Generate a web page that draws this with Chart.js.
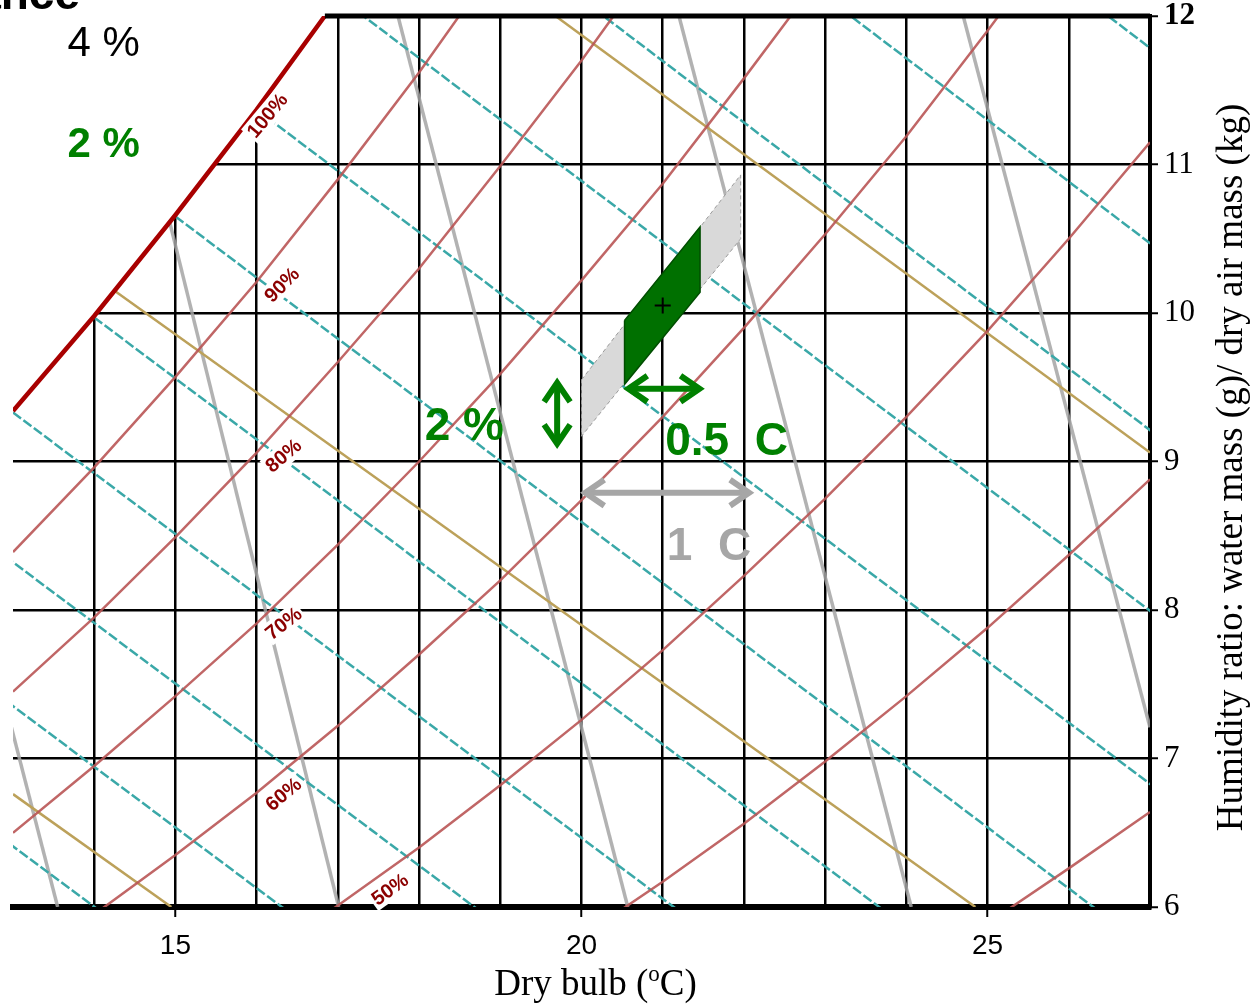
<!DOCTYPE html>
<html>
<head>
<meta charset="utf-8">
<title>Psychrometric chart - tolerance</title>
<script src="https://cdn.jsdelivr.net/npm/chart.js@4.4.1/dist/chart.umd.min.js"></script>
<style>
  html, body { margin: 0; padding: 0; background: #fff; }
</style>
</head>
<body>
<canvas id="psychro" width="1254" height="1005"></canvas>
<script>
// ---- data (dry bulb in C, humidity ratio in g/kg) ----

// saturation line (100 %)
const satT = [13, 14, 15, 16, 16.84];
const satW = [9.34, 9.98, 10.66, 11.37, 12.0];

// relative humidity curves
const rh90T = [13, 14, 15, 16, 17, 18, 19];
const rh90W = [8.39, 8.96, 9.57, 10.21, 10.90, 11.62, 12.39];
const rh80T = [13, 14, 15, 16, 17, 18, 19, 20, 21];
const rh80W = [7.45, 7.95, 8.49, 9.06, 9.67, 10.30, 10.99, 11.70, 12.46];
const rh70T = [13, 14, 15, 16, 17, 18, 19, 20, 21, 22, 23];
const rh70W = [6.50, 6.95, 7.42, 7.91, 8.44, 9.00, 9.59, 10.22, 10.87, 11.58, 12.31];
const rh60T = [13, 14, 15, 16, 17, 18, 19, 20, 21, 22, 23, 24, 25, 26];
const rh60W = [5.57, 5.95, 6.35, 6.77, 7.22, 7.70, 8.20, 8.74, 9.30, 9.90, 10.53, 11.19, 11.90, 12.64];
const rh50T = [16, 17, 18, 19, 20, 21, 22, 23, 24, 25, 26, 27];
const rh50W = [5.63, 6.01, 6.40, 6.82, 7.26, 7.73, 8.23, 8.75, 9.30, 9.88, 10.50, 11.15];
const rh40T = [19, 20, 21, 22, 23, 24, 25, 26, 27];
const rh40W = [5.44, 5.80, 6.17, 6.56, 6.98, 7.42, 7.88, 8.37, 8.88];
const rh30T = [23, 24, 25, 26, 27];
const rh30W = [5.22, 5.55, 5.89, 6.26, 6.64];

// RH labels
const rhLabelText = ['100%', '90%', '80%', '70%', '60%', '50%'];
const rhLabelT = [16.13, 16.31, 16.33, 16.33, 16.33, 17.64];
const rhLabelW = [11.33, 10.19, 9.04, 7.91, 6.76, 6.12];
const rhLabelAngle = [-50, -45, -40, -38, -40, -36];

// wet bulb lines (cyan dashed), one per degree 10..20
const wbStartT = [10, 11, 12, 13, 14, 15, 16, 17, 18, 19, 20];
const wbStartW = [7.63, 8.17, 8.73, 9.33, 9.97, 10.65, 11.37, 12.13, 12.94, 13.79, 14.70];
const wbEndT = [24, 25, 26, 27, 28, 29, 30, 31, 32, 33, 34];
const wbEndW = [1.93, 2.45, 3.01, 3.60, 4.22, 4.89, 5.59, 6.34, 7.14, 7.98, 8.87];

// enthalpy lines (olive)
const enthStartT = [13, 14.25, 19.68];
const enthStartW = [6.76, 10.15, 12.0];
const enthEndT = [14.95, 24.85, 27.0];
const enthEndW = [6.0, 6.0, 9.06];

// specific volume lines (grey)
const volStartT = [12.9, 14.93, 17.74, 21.2, 24.7];
const volStartW = [7.38, 10.61, 12.0, 12.0, 12.0];
const volEndT = [13.55, 17.01, 20.57, 24.06, 27.0];
const volEndW = [6.0, 6.0, 6.0, 6.0, 7.21];

// tolerance zones around the set point
const setPointT = [21.0];
const setPointW = [10.05];
const wideZoneT = [20.0, 21.96, 21.96, 20.0, 20.0];
const wideZoneW = [9.55, 10.93, 10.50, 9.17, 9.55];
const tightZoneT = [20.53, 21.46, 21.46, 20.53, 20.53];
const tightZoneW = [9.95, 10.58, 10.14, 9.52, 9.95];

// double arrows [x1, y1, x2, y2]
const arrowRh = [19.70, 9.55, 19.70, 9.10];
const arrowHalf = [20.54, 9.49, 21.49, 9.49];
const arrowOne = [20.01, 8.79, 22.10, 8.79];

const GREEN = '#008000';
const SANS = '"Liberation Sans", Arial, sans-serif';
const SERIF = '"Liberation Serif", "Times New Roman", serif';

function line(xs, ys, color, width, dash, order) {
    return {
        data: xs.map((x, i) => ({ x: x, y: ys[i] })),
        showLine: true,
        borderColor: color,
        borderWidth: width,
        borderDash: dash || [],
        pointRadius: 0,
        fill: false,
        tension: 0,
        order: order
    };
}

let datasets = [];

// white area above the saturation line hides the grid there
datasets.push(Object.assign(line(satT, satW, 'rgba(0,0,0,0)', 0, null, 20), {
    fill: 'end', backgroundColor: '#ffffff'
}));

for (let i = 0; i < volStartT.length; i++) {
    datasets.push(line([volStartT[i], volEndT[i]], [volStartW[i], volEndW[i]], 'rgba(165,165,165,0.85)', 3.5, null, 9));
}
for (let i = 0; i < enthStartT.length; i++) {
    datasets.push(line([enthStartT[i], enthEndT[i]], [enthStartW[i], enthEndW[i]], '#bca15a', 2.5, null, 8));
}
for (let i = 0; i < wbStartT.length; i++) {
    datasets.push(line([wbStartT[i], wbEndT[i]], [wbStartW[i], wbEndW[i]], '#3aa8a8', 2.5, [10, 3], 7));
}
[[rh90T, rh90W], [rh80T, rh80W], [rh70T, rh70W], [rh60T, rh60W],
 [rh50T, rh50W], [rh40T, rh40W], [rh30T, rh30W]].forEach(function (c) {
    datasets.push(line(c[0], c[1], 'rgba(185,85,85,0.9)', 2.5, null, 6));
});

datasets.push(line(satT, satW, '#a80000', 4.5, null, 5));

// top frame starts where the saturation line meets 12 g/kg
datasets.push(Object.assign(line([satT[satT.length - 1], 27], [12, 12], '#000', 5, null, 4), { clip: false }));

datasets.push(Object.assign(line(wideZoneT, wideZoneW, '#9a9a9a', 1, [4, 3], 3), {
    fill: 'shape', backgroundColor: '#d9d9d9'
}));
datasets.push(Object.assign(line(tightZoneT, tightZoneW, '#004d00', 1.5, null, 2), {
    fill: 'shape', backgroundColor: '#007000'
}));
datasets.push({
    data: setPointT.map((t, i) => ({ x: t, y: setPointW[i] })),
    showLine: false,
    pointStyle: 'cross',
    pointRadius: 8,
    pointBorderColor: '#000',
    pointBorderWidth: 2,
    order: 1
});

function drawArrow(ctx, p1, p2, color) {
    const head = 22, spread = 13;
    ctx.save();
    ctx.strokeStyle = color;
    ctx.lineWidth = 6;
    ctx.lineCap = 'butt';
    ctx.lineJoin = 'miter';
    const a = Math.atan2(p2[1] - p1[1], p2[0] - p1[0]);
    ctx.beginPath();
    ctx.moveTo(p1[0] + 4 * Math.cos(a), p1[1] + 4 * Math.sin(a));
    ctx.lineTo(p2[0] - 4 * Math.cos(a), p2[1] - 4 * Math.sin(a));
    ctx.stroke();
    [[p1, a + Math.PI], [p2, a]].forEach(function (e) {
        const t = e[0], b = e[1];
        ctx.beginPath();
        ctx.moveTo(t[0] - head * Math.cos(b) + spread * Math.sin(b), t[1] - head * Math.sin(b) - spread * Math.cos(b));
        ctx.lineTo(t[0] - 3 * Math.cos(b), t[1] - 3 * Math.sin(b));
        ctx.lineTo(t[0] - head * Math.cos(b) - spread * Math.sin(b), t[1] - head * Math.sin(b) + spread * Math.cos(b));
        ctx.stroke();
    });
    ctx.restore();
}

const extras = {
    id: 'extras',
    afterDatasetsDraw(chart) {
        const ctx = chart.ctx;
        const xs = chart.scales.x, ys = chart.scales.y;
        const area = chart.chartArea;
        const px = v => xs.getPixelForValue(v);
        const py = v => ys.getPixelForValue(v);

        // RH labels with white boxes
        ctx.save();
        ctx.font = 'bold 20px ' + SANS;
        ctx.textAlign = 'center';
        ctx.textBaseline = 'middle';
        for (let i = 0; i < rhLabelText.length; i++) {
            ctx.save();
            ctx.translate(px(rhLabelT[i]), py(rhLabelW[i]));
            ctx.rotate(rhLabelAngle[i] * Math.PI / 180);
            const w = ctx.measureText(rhLabelText[i]).width;
            ctx.fillStyle = '#fff';
            ctx.fillRect(-w / 2 - 2, -11, w + 4, 22);
            ctx.fillStyle = '#8b0000';
            ctx.fillText(rhLabelText[i], 0, 1);
            ctx.restore();
        }
        ctx.restore();

        // arrows
        const toPx = a => [[px(a[0]), py(a[1])], [px(a[2]), py(a[3])]];
        let p = toPx(arrowRh); drawArrow(ctx, p[0], p[1], GREEN);
        p = toPx(arrowHalf); drawArrow(ctx, p[0], p[1], GREEN);
        p = toPx(arrowOne); drawArrow(ctx, p[0], p[1], '#a6a6a6');

        // annotation texts
        ctx.save();
        ctx.textAlign = 'left';
        ctx.textBaseline = 'alphabetic';
        ctx.font = 'bold 46px ' + SANS;
        ctx.fillStyle = GREEN;
        ctx.fillText('2 %', px(18.07), py(9.145));
        ctx.fillText('0.5  C', px(21.03), py(9.044));
        ctx.fillStyle = '#a6a6a6';
        ctx.fillText('1  C', px(21.05), py(8.337));

        ctx.font = '42px ' + SANS;
        ctx.fillStyle = '#000';
        ctx.fillText('4 %', px(13.67), py(11.73));
        ctx.font = 'bold 42px ' + SANS;
        ctx.fillStyle = GREEN;
        ctx.fillText('2 %', px(13.67), py(11.05));

        // title cut off at the top edge
        ctx.font = 'bold 46px ' + SANS;
        ctx.fillStyle = '#000';
        ctx.textAlign = 'right';
        ctx.fillText('Tolerance', 80, 9);
        ctx.restore();

        // x axis title with superscript o
        ctx.save();
        ctx.fillStyle = '#000';
        ctx.textBaseline = 'alphabetic';
        ctx.textAlign = 'left';
        const big = '37px ' + SERIF, small = '23px ' + SERIF;
        ctx.font = big;
        const wa = ctx.measureText('Dry bulb (').width;
        const wc = ctx.measureText('C)').width;
        ctx.font = small;
        const wb = ctx.measureText('o').width;
        const cx = (area.left + area.right) / 2 + 14;
        const base = area.bottom + 88;
        let x0 = cx - (wa + wb + wc) / 2;
        ctx.font = big;
        ctx.fillText('Dry bulb (', x0, base);
        ctx.font = small;
        ctx.fillText('o', x0 + wa, base - 14);
        ctx.font = big;
        ctx.fillText('C)', x0 + wa + wb, base);
        ctx.restore();

        // y axis title on the right, reading upwards
        ctx.save();
        ctx.translate(1242, (area.top + area.bottom) / 2 + 6);
        ctx.rotate(-Math.PI / 2);
        ctx.font = '37px ' + SERIF;
        ctx.fillStyle = '#000';
        ctx.textAlign = 'center';
        ctx.textBaseline = 'alphabetic';
        ctx.fillText('Humidity ratio: water mass (g)/ dry air mass (kg)', 0, 0);
        ctx.restore();
    }
};

new Chart(document.getElementById('psychro'), {
    type: 'scatter',
    data: { datasets: datasets },
    options: {
        responsive: false,
        animation: false,
        devicePixelRatio: 1,
        layout: { padding: { left: 13, top: 16, right: 0, bottom: 0 } },
        plugins: {
            legend: { display: false },
            tooltip: { enabled: false }
        },
        scales: {
            x: {
                type: 'linear',
                min: 13,
                max: 27,
                afterFit: s => { s.height = 98; },
                ticks: {
                    stepSize: 1,
                    autoSkip: false,
                    maxRotation: 0,
                    padding: 12,
                    color: '#000',
                    font: { family: SANS, size: 28 },
                    callback: v => (v % 5 === 0 ? String(v) : '')
                },
                grid: {
                    color: c => (c.tick && (c.tick.value === 13 || c.tick.value === 27)) ? 'rgba(0,0,0,0)' : '#000',
                    lineWidth: 2.5,
                    tickLength: 10,
                    tickWidth: 2,
                    tickColor: c => (c.tick && c.tick.value % 5 === 0) ? '#000' : 'rgba(0,0,0,0)'
                },
                border: { color: '#000', width: 6 }
            },
            y: {
                type: 'linear',
                position: 'right',
                min: 6,
                max: 12,
                afterFit: s => { s.width = 104; },
                ticks: {
                    stepSize: 1,
                    padding: 6,
                    color: '#000',
                    font: c => ({
                        family: SERIF,
                        size: 31,
                        lineHeight: 0.6,
                        weight: (c.tick && c.tick.value === 12) ? 'bold' : 'normal'
                    })
                },
                grid: {
                    color: c => (c.tick && (c.tick.value === 12 || c.tick.value === 6)) ? 'rgba(0,0,0,0)' : '#000',
                    lineWidth: 2.5,
                    tickLength: 8,
                    tickWidth: 2,
                    tickColor: '#000'
                },
                border: { color: '#000', width: 4 }
            }
        }
    },
    plugins: [extras]
});
</script>
</body>
</html>
